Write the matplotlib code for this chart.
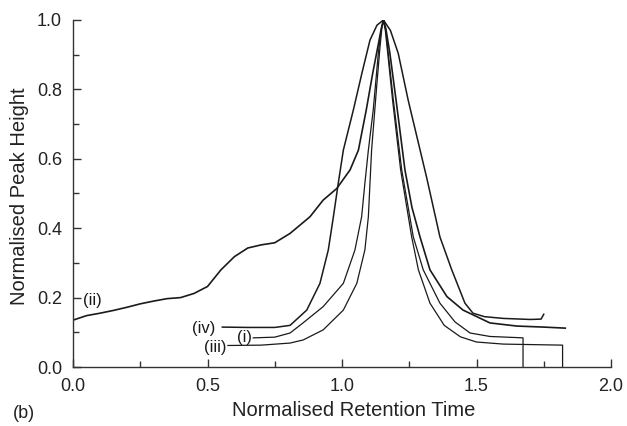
import matplotlib
matplotlib.use("Agg")
import matplotlib.pyplot as plt
from matplotlib.ticker import MultipleLocator

plt.rcParams['font.family'] = ['Liberation Sans', 'DejaVu Sans']

# ---- data ----
ii_x = [0.00, 0.05, 0.10, 0.15, 0.20, 0.25, 0.30, 0.35, 0.40, 0.45, 0.50, 0.55, 0.60,
        0.65, 0.70, 0.75, 0.807, 0.881, 0.93, 0.98, 1.03, 1.061, 1.09, 1.115, 1.135,
        1.146, 1.154, 1.163, 1.178, 1.201, 1.234, 1.26, 1.29, 1.327, 1.39, 1.45, 1.55,
        1.65, 1.75, 1.83]
ii_y = [0.135, 0.148, 0.155, 0.163, 0.172, 0.182, 0.190, 0.197, 0.200, 0.212, 0.232,
        0.280, 0.318, 0.343, 0.352, 0.358, 0.385, 0.433, 0.481, 0.514, 0.568, 0.625,
        0.740, 0.850, 0.930, 0.975, 1.000, 0.975, 0.904, 0.769, 0.568, 0.460, 0.375,
        0.280, 0.203, 0.164, 0.127, 0.118, 0.115, 0.112]

iv_x = [0.555, 0.65, 0.75, 0.807, 0.869, 0.918, 0.949, 0.968, 0.986, 1.005, 1.042,
        1.075, 1.104, 1.13, 1.154, 1.18, 1.209, 1.246, 1.315, 1.364, 1.408, 1.457,
        1.487, 1.53, 1.60, 1.70, 1.74, 1.75]
iv_y = [0.115, 0.114, 0.114, 0.120, 0.164, 0.241, 0.337, 0.433, 0.529, 0.625, 0.740,
        0.850, 0.942, 0.985, 1.000, 0.970, 0.904, 0.769, 0.545, 0.375, 0.280, 0.184,
        0.155, 0.145, 0.140, 0.137, 0.138, 0.152]

i_x = [0.67, 0.75, 0.807, 0.855, 0.93, 1.005, 1.048, 1.073, 1.085, 1.098, 1.116,
       1.123, 1.135, 1.145, 1.154, 1.163, 1.172, 1.191, 1.222, 1.265, 1.302, 1.364,
       1.42, 1.476, 1.55, 1.673, 1.673]
i_y = [0.084, 0.086, 0.098, 0.127, 0.174, 0.241, 0.337, 0.433, 0.529, 0.625, 0.740,
       0.800, 0.904, 0.970, 1.000, 0.970, 0.904, 0.769, 0.568, 0.375, 0.280, 0.184,
       0.130, 0.098, 0.088, 0.084, 0.0]

iii_x = [0.576, 0.70, 0.807, 0.856, 0.93, 1.005, 1.055, 1.085, 1.098, 1.104, 1.11,
         1.128, 1.141, 1.148, 1.154, 1.161, 1.17, 1.188, 1.218, 1.259, 1.284, 1.327,
         1.38, 1.44, 1.50, 1.60, 1.82, 1.82]
iii_y = [0.062, 0.063, 0.069, 0.078, 0.107, 0.164, 0.241, 0.337, 0.433, 0.529, 0.625,
         0.800, 0.920, 0.975, 1.000, 0.970, 0.904, 0.769, 0.568, 0.375, 0.280, 0.184,
         0.120, 0.087, 0.072, 0.066, 0.063, 0.0]

labels = ["(ii)", "(iv)", "(i)", "(iii)"]
label_pos = [(0.037, 0.193), (0.53, 0.112), (0.637, 0.084), (0.572, 0.055)]

# ---- figure ----
fig = plt.figure(figsize=(6.27, 4.26), dpi=100)
ax = fig.add_axes([73 / 627, 1 - 367 / 426, (611 - 73) / 627, (367 - 20) / 426])

col = '#1a1a1a'
ax.plot(ii_x, ii_y, color=col, lw=1.2)
ax.plot(iv_x, iv_y, color=col, lw=1.1)
ax.plot(i_x, i_y, color=col, lw=0.9)
ax.plot(iii_x, iii_y, color=col, lw=0.9)

ha = ['left', 'right', 'center', 'right']
for lab, (lx, ly), h in zip(labels, label_pos, ha):
    ax.text(lx, ly, lab, fontsize=12, ha=h, va='center', color=col)

ax.set_xlim(0, 2.0)
ax.set_ylim(0, 1.0)
ax.xaxis.set_major_locator(MultipleLocator(0.5))
ax.xaxis.set_minor_locator(MultipleLocator(0.25))
ax.yaxis.set_major_locator(MultipleLocator(0.2))
ax.yaxis.set_minor_locator(MultipleLocator(0.1))
ax.xaxis.set_major_formatter(plt.FuncFormatter(lambda v, p: f"{v:.1f}"))
ax.yaxis.set_major_formatter(plt.FuncFormatter(lambda v, p: f"{v:.1f}"))
ax.tick_params(which='both', direction='in', colors='#333333', labelcolor='#222222',
               labelsize=13, width=1.0)
ax.tick_params(which='major', length=6, pad=8)
ax.tick_params(which='minor', length=4)
for s in ['top', 'right']:
    ax.spines[s].set_visible(False)
for s in ['left', 'bottom']:
    ax.spines[s].set_color('#333333')
    ax.spines[s].set_linewidth(1.0)

fig.text(354 / 627, 1 - 410 / 426, "Normalised Retention Time", fontsize=14.5,
         ha='center', va='center', color='#222222')
fig.text(20 / 627, 1 - 196 / 426, "Normalised Peak Height", fontsize=14.5,
         ha='center', va='center', rotation=90, color='#222222')
fig.text(13 / 627, 1 - 413 / 426, "(b)", fontsize=13, ha='left', va='center',
         color='#222222')

fig.savefig("out.png", dpi=100)
